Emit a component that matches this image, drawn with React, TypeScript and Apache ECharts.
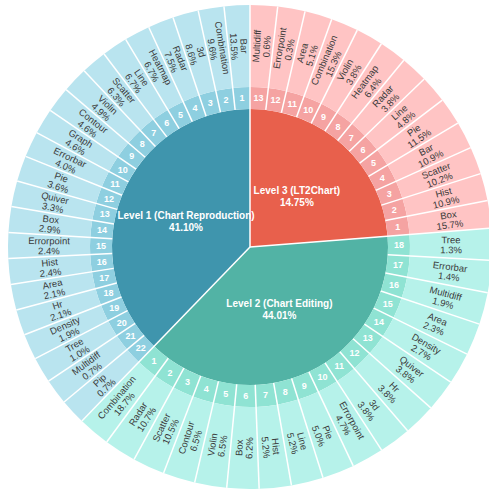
import React, { useEffect, useRef } from 'react';
import * as echarts from 'echarts';

// ---- data ----
const levelNames = ['Level 1 (Chart Reproduction)', 'Level 2 (Chart Editing)', 'Level 3 (LT2Chart)'];
const levelShares = [41.10, 44.01, 14.75];
// angular extent (degrees) of each level's sector as drawn in the picture
const levelSpanDeg = [136, 138.5, 85.5];

const level1Types = ['Bar', 'Combination', '3d', 'Radar', 'Heatmap', 'Line', 'Scatter', 'Violin', 'Contour', 'Graph', 'Errorbar', 'Pie', 'Quiver', 'Box', 'Errorpoint', 'Hist', 'Area', 'Hr', 'Density', 'Tree', 'Multidiff', 'Pip'];
const level1Pct = [13.5, 9.6, 8.6, 7.5, 6.7, 6.7, 6.3, 4.9, 4.6, 4.6, 4.0, 3.6, 3.3, 2.9, 2.4, 2.4, 2.1, 2.1, 1.9, 1.0, 0.7, 0.7];

const level2Types = ['Combination', 'Radar', 'Scatter', 'Contour', 'Violin', 'Box', 'Hist', 'Line', 'Pie', 'Errorpoint', '3d', 'Hr', 'Quiver', 'Density', 'Area', 'Multidiff', 'Errorbar', 'Tree'];
const level2Pct = [18.7, 10.7, 10.5, 6.5, 6.5, 6.2, 5.2, 5.2, 5.0, 4.7, 3.8, 3.8, 3.8, 2.7, 2.3, 1.9, 1.4, 1.3];

const level3Types = ['Box', 'Hist', 'Scatter', 'Bar', 'Pie', 'Line', 'Radar', 'Heatmap', 'Violin', 'Combination', 'Area', 'Errorpoint', 'Multidiff'];
const level3Pct = [15.7, 10.9, 10.2, 10.9, 11.5, 4.8, 3.8, 6.4, 3.8, 15.3, 5.1, 0.3, 0.6];

// ---- styles ----
const innerColors = ['#3f95ad', '#52b3a5', '#e8604c'];
const ringColors = ['#8ecfe0', '#8fe3d3', '#f5a3a2'];
const outerColors = ['#b9e4ef', '#b6f2ea', '#ffc4c4'];
const innerLabelOffsets = [[-2, 0], [7, -5], [4, 1]];

const CX = 250;
const CY = 247;
const R_INNER = 138;
const R_RING = 160;
const R_OUTER = 242;
const FONT = '"Liberation Sans", Arial, Helvetica, sans-serif';

export default function App() {
  const ref = useRef<HTMLDivElement>(null);

  useEffect(() => {
    const el = ref.current;
    if (!el) return;
    const chart = echarts.init(el, null, { renderer: 'svg' });

    const groups = [
      { types: level1Types, pct: level1Pct },
      { types: level2Types, pct: level2Pct },
      { types: level3Types, pct: level3Pct },
    ];

    const data = groups.map((g, li) => {
      const leafValue = levelSpanDeg[li] / g.types.length;
      return {
        name: levelNames[li],
        share: levelShares[li],
        itemStyle: { color: innerColors[li] },
        label: { offset: innerLabelOffsets[li] },
        children: g.types.map((t, k) => ({
          name: String(k + 1),
          value: leafValue,
          itemStyle: { color: ringColors[li] },
          children: [
            {
              name: t,
              value: leafValue,
              pct: g.pct[k],
              itemStyle: { color: outerColors[li] },
            },
          ],
        })),
      };
    });

    // separator lines (radius, angle) at every sector boundary
    const bounds: number[][] = [];
    let acc = 0;
    groups.forEach((g, li) => {
      bounds.push([0, acc]);
      const step = levelSpanDeg[li] / g.types.length;
      for (let k = 1; k < g.types.length; k++) bounds.push([R_INNER, acc + step * k]);
      acc += levelSpanDeg[li];
    });

    chart.setOption({
      animation: false,
      polar: { center: [CX, CY], radius: [0, R_OUTER] },
      angleAxis: { type: 'value', min: 0, max: 360, startAngle: 90, clockwise: false, show: false },
      radiusAxis: { type: 'value', min: 0, max: R_OUTER, show: false },
      series: [
        {
          type: 'sunburst',
          center: [CX, CY],
          radius: [0, R_OUTER],
          startAngle: 90,
          clockwise: false,
          sort: null,
          nodeClick: false,
          emphasis: { disabled: true },
          itemStyle: { borderWidth: 0, borderColor: 'transparent' },
          data,
          levels: [
            {},
            {
              r0: 0,
              r: R_INNER,
              label: {
                rotate: 0,
                color: '#ffffff',
                fontFamily: FONT,
                fontWeight: 'bold',
                fontSize: 10,
                lineHeight: 12,
                formatter: (p: any) => `${p.name}\n${p.data.share.toFixed(2)}%`,
              },
            },
            {
              r0: R_INNER,
              r: R_RING,
              label: {
                rotate: 0,
                color: '#ffffff',
                fontFamily: FONT,
                fontWeight: 'bold',
                fontSize: 9,
              },
            },
            {
              r0: R_RING,
              r: R_OUTER,
              label: {
                rotate: 'radial',
                color: '#3a3a3a',
                fontFamily: FONT,
                fontSize: 9.5,
                lineHeight: 10,
                formatter: (p: any) => `${p.name}\n${p.data.pct.toFixed(1)}%`,
              },
            },
          ],
        },
        {
          type: 'custom',
          coordinateSystem: 'polar',
          silent: true,
          z: 10,
          data: bounds,
          renderItem: (_params: any, api: any) => {
            const r0 = api.value(0);
            const a = api.value(1);
            const p0 = api.coord([r0, a]);
            const p1 = api.coord([R_OUTER, a]);
            return {
              type: 'line',
              shape: { x1: p0[0], y1: p0[1], x2: p1[0], y2: p1[1] },
              style: { stroke: '#ffffff', lineWidth: 1.5 },
            };
          },
        },
      ],
    });

    return () => {
      chart.dispose();
    };
  }, []);

  return (
    <div
      ref={ref}
      style={{ position: 'absolute', left: 0, top: 0, width: 489, height: 490, background: '#ffffff' }}
    />
  );
}
